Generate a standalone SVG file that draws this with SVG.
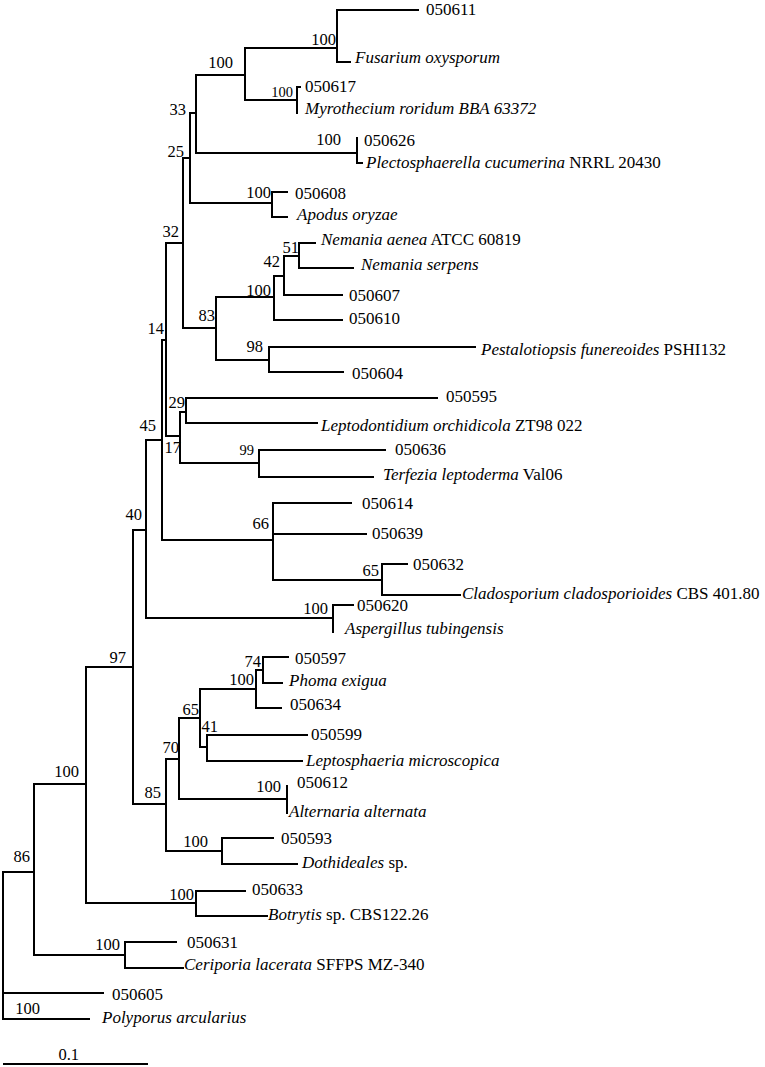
<svg xmlns="http://www.w3.org/2000/svg" width="765" height="1067" viewBox="0 0 765 1067" font-family="'Liberation Serif', 'Times New Roman', Tinos, 'DejaVu Serif', serif">
<style>
.br{fill:none;stroke:#000;stroke-width:2;stroke-linecap:square}
text{font-family:'Liberation Serif','Times New Roman',Tinos,'DejaVu Serif',serif;fill:#000}
.lf{font-size:17px}
.sp{font-size:16.5px;text-anchor:end}
.sm{font-size:14.5px;text-anchor:end}
.i{font-style:italic}
</style>
<rect width="765" height="1067" fill="#fff"/>
<g id="connectors">
<path class="br" d="M3 872 V1019 M3 993 H103 M3 1019 H89"/>
<path class="br" d="M3 872 H34 M34 784 V955"/>
<path class="br" d="M34 784 H86 M86 667 V903"/>
<path class="br" d="M86 667 H133 M133 530 V804"/>
<path class="br" d="M133 530 H146 M146 440 V618"/>
<path class="br" d="M146 440 H162 M162 340 V540"/>
<path class="br" d="M162 340 H166 M166 243 V436"/>
<path class="br" d="M166 243 H183 M183 158 V328"/>
<path class="br" d="M183 158 H190 M190 113 V203"/>
<path class="br" d="M190 113 H196 M196 75 V153"/>
<path class="br" d="M196 75 H245 M245 48 V100"/>
<path class="br" d="M245 48 H337 M337 10 V62 M337 10 H418 M337 62 H350"/>
<path class="br" d="M245 100 H297 M297 87 V113 M297 87 H300"/>
<path class="br" d="M196 153 H357 M357 138 V163 M357 163 H362"/>
<path class="br" d="M190 203 H272 M272 192 V217 M272 192 H287 M272 217 H287"/>
<path class="br" d="M183 328 H216 M216 297 V360"/>
<path class="br" d="M216 297 H274 M274 276 V320 M274 320 H342"/>
<path class="br" d="M274 276 H284 M284 256 V295 M284 295 H342"/>
<path class="br" d="M284 256 H299 M299 243 V268 M299 243 H315 M299 268 H353"/>
<path class="br" d="M216 360 H269 M269 347 V372 M269 347 H475 M269 372 H343"/>
<path class="br" d="M166 436 H180 M180 412 V463"/>
<path class="br" d="M180 412 H186 M186 398 V423 M186 398 H437 M186 423 H317"/>
<path class="br" d="M180 463 H259 M259 450 V477 M259 450 H385 M259 477 H373"/>
<path class="br" d="M162 540 H273 M273 503 V580 M273 503 H351 M273 534 H366"/>
<path class="br" d="M273 580 H382 M382 564 V595 M382 564 H407 M382 595 H460"/>
<path class="br" d="M146 618 H333 M333 605 V632 M333 605 H353"/>
<path class="br" d="M133 804 H166 M166 759 V851"/>
<path class="br" d="M166 759 H179 M179 718 V799"/>
<path class="br" d="M179 718 H200 M200 689 V747"/>
<path class="br" d="M200 689 H256 M256 670 V708 M256 708 H281"/>
<path class="br" d="M256 670 H263 M263 657 V683 M263 657 H288 M263 683 H282"/>
<path class="br" d="M200 747 H207 M207 735 V761 M207 735 H307 M207 761 H302"/>
<path class="br" d="M179 799 H287 M287 786 V813"/>
<path class="br" d="M166 851 H222 M222 838 V864 M222 838 H273 M222 864 H297"/>
<path class="br" d="M86 903 H196 M196 891 V916 M196 891 H245 M196 916 H267"/>
<path class="br" d="M34 955 H125 M125 942 V968 M125 942 H176 M125 968 H183"/>
<path class="br" d="M4 1064 H147"/>
</g>
<g id="leaf-050611"><text class="lf" x="426" y="15">050611</text></g>
<g id="leaf-fusarium"><text class="lf i" x="355" y="63">Fusarium oxysporum</text></g>
<g id="leaf-050617"><text class="lf" x="305" y="92">050617</text></g>
<g id="leaf-myrothecium"><text class="lf i" x="305" y="114">Myrothecium roridum BBA 63372</text></g>
<g id="leaf-050626"><text class="lf" x="364" y="146">050626</text></g>
<g id="leaf-plectosphaerella"><text class="lf" x="366" y="168"><tspan class="i">Plectosphaerella cucumerina</tspan> NRRL 20430</text></g>
<g id="leaf-050608"><text class="lf" x="295" y="199">050608</text></g>
<g id="leaf-apodus"><text class="lf i" x="297" y="220">Apodus oryzae</text></g>
<g id="leaf-nemania-aenea"><text class="lf" x="321" y="245"><tspan class="i">Nemania aenea</tspan> ATCC 60819</text></g>
<g id="leaf-nemania-serpens"><text class="lf i" x="361" y="270">Nemania serpens</text></g>
<g id="leaf-050607"><text class="lf" x="349" y="301">050607</text></g>
<g id="leaf-050610"><text class="lf" x="349" y="324">050610</text></g>
<g id="leaf-pestalotiopsis"><text class="lf" x="481" y="355"><tspan class="i">Pestalotiopsis funereoides</tspan> PSHI132</text></g>
<g id="leaf-050604"><text class="lf" x="352" y="379">050604</text></g>
<g id="leaf-050595"><text class="lf" x="446" y="402">050595</text></g>
<g id="leaf-leptodontidium"><text class="lf" x="321" y="431"><tspan class="i">Leptodontidium orchidicola</tspan> ZT98 022</text></g>
<g id="leaf-050636"><text class="lf" x="395" y="455">050636</text></g>
<g id="leaf-terfezia"><text class="lf" x="383" y="480"><tspan class="i">Terfezia leptoderma</tspan> Val06</text></g>
<g id="leaf-050614"><text class="lf" x="362" y="509">050614</text></g>
<g id="leaf-050639"><text class="lf" x="372" y="539">050639</text></g>
<g id="leaf-050632"><text class="lf" x="413" y="570">050632</text></g>
<g id="leaf-cladosporium"><text class="lf" x="462" y="599"><tspan class="i">Cladosporium cladosporioides</tspan> CBS 401.80</text></g>
<g id="leaf-050620"><text class="lf" x="357" y="611">050620</text></g>
<g id="leaf-aspergillus"><text class="lf i" x="345" y="634">Aspergillus tubingensis</text></g>
<g id="leaf-050597"><text class="lf" x="295" y="664">050597</text></g>
<g id="leaf-phoma"><text class="lf i" x="289" y="686">Phoma exigua</text></g>
<g id="leaf-050634"><text class="lf" x="290" y="710">050634</text></g>
<g id="leaf-050599"><text class="lf" x="311" y="740">050599</text></g>
<g id="leaf-leptosphaeria"><text class="lf i" x="306" y="766">Leptosphaeria microscopica</text></g>
<g id="leaf-050612"><text class="lf" x="297" y="788">050612</text></g>
<g id="leaf-alternaria"><text class="lf i" x="289" y="817">Alternaria alternata</text></g>
<g id="leaf-050593"><text class="lf" x="281" y="844">050593</text></g>
<g id="leaf-dothideales"><text class="lf" x="302" y="868"><tspan class="i">Dothideales</tspan> sp.</text></g>
<g id="leaf-050633"><text class="lf" x="252" y="895">050633</text></g>
<g id="leaf-botrytis"><text class="lf" x="268" y="920"><tspan class="i">Botrytis</tspan> sp. CBS122.26</text></g>
<g id="leaf-050631"><text class="lf" x="187" y="948">050631</text></g>
<g id="leaf-ceriporia"><text class="lf" x="184" y="970"><tspan class="i">Ceriporia lacerata</tspan> SFFPS MZ-340</text></g>
<g id="leaf-050605"><text class="lf" x="112" y="1000">050605</text></g>
<g id="leaf-polyporus"><text class="lf i" x="102" y="1023">Polyporus arcularius</text></g>
<g id="node-fusarium"><text class="sp" x="336" y="45">100</text></g>
<g id="node-myrothecium"><text class="sm" x="293" y="97">100</text></g>
<g id="node-c"><text class="sp" x="233" y="68">100</text></g>
<g id="node-d"><text class="sp" x="186" y="115">33</text></g>
<g id="node-e"><text class="sp" x="184" y="157">25</text></g>
<g id="node-plecto"><text class="sp" x="341" y="145">100</text></g>
<g id="node-apodus"><text class="sp" x="271" y="198">100</text></g>
<g id="node-f"><text class="sp" x="179" y="237">32</text></g>
<g id="node-g"><text class="sp" x="215" y="321">83</text></g>
<g id="node-h"><text class="sp" x="271" y="296">100</text></g>
<g id="node-i"><text class="sp" x="280" y="267">42</text></g>
<g id="node-j"><text class="sp" x="299" y="253">51</text></g>
<g id="node-k"><text class="sp" x="263" y="352">98</text></g>
<g id="node-l"><text class="sp" x="164" y="334">14</text></g>
<g id="node-m"><text class="sp" x="156" y="431">45</text></g>
<g id="node-n"><text class="sp" x="181" y="453">17</text></g>
<g id="node-o"><text class="sp" x="185" y="408">29</text></g>
<g id="node-p"><text class="sm" x="254" y="455">99</text></g>
<g id="node-q"><text class="sp" x="269" y="529">66</text></g>
<g id="node-r"><text class="sp" x="379" y="576">65</text></g>
<g id="node-s"><text class="sp" x="142" y="520">40</text></g>
<g id="node-aspergillus"><text class="sp" x="328" y="614">100</text></g>
<g id="node-t"><text class="sp" x="126" y="663">97</text></g>
<g id="node-u"><text class="sp" x="161" y="798">85</text></g>
<g id="node-v"><text class="sp" x="179" y="753">70</text></g>
<g id="node-w"><text class="sp" x="199" y="715">65</text></g>
<g id="node-x"><text class="sp" x="254" y="685">100</text></g>
<g id="node-y"><text class="sp" x="261" y="667">74</text></g>
<g id="node-z"><text class="sp" x="218" y="732">41</text></g>
<g id="node-alternaria"><text class="sp" x="281" y="792">100</text></g>
<g id="node-dothideales"><text class="sp" x="208" y="847">100</text></g>
<g id="node-botrytis"><text class="sp" x="194" y="900">100</text></g>
<g id="node-aa"><text class="sp" x="79" y="777">100</text></g>
<g id="node-bb"><text class="sp" x="30" y="862">86</text></g>
<g id="node-ceriporia"><text class="sp" x="120" y="950">100</text></g>
<g id="node-root"><text class="sp" x="40" y="1014">100</text></g>
<g id="scale"><text class="sp" x="79" y="1060">0.1</text></g>
</svg>
